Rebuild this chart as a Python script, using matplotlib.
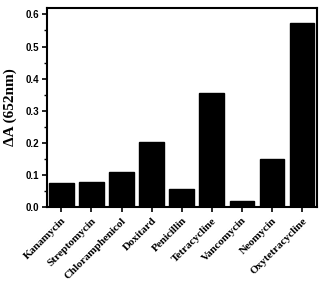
import matplotlib
matplotlib.use("Agg")
import matplotlib.pyplot as plt
from matplotlib.ticker import MultipleLocator

categories = ["Kanamycin", "Streptomycin", "Chloramphenicol", "Doxitard", "Penicillin",
              "Tetracycline", "Vancomycin", "Neomycin", "Oxytetracycline"]
values = [0.074, 0.078, 0.110, 0.203, 0.055, 0.354, 0.018, 0.149, 0.574]
yticks = [0.0, 0.1, 0.2, 0.3, 0.4, 0.5, 0.6]

fig = plt.figure(figsize=(3.23, 2.83), dpi=100)
ax = fig.add_axes([47/323, 1-207/283, (317-47)/323, (207-8)/283])

x = list(range(len(categories)))
ax.bar(x, values, width=0.82, color="black", edgecolor="black")
ax.set_xlim(-0.48, 8.5)
ax.set_ylim(0, 0.62)
ax.set_yticks(yticks)
ax.set_yticklabels([f"{v:.1f}" for v in yticks], fontfamily="Liberation Sans",
                   fontweight="bold", fontsize=7)
ax.yaxis.set_minor_locator(MultipleLocator(0.05))
ax.set_xticks(x)
ax.set_xticklabels(categories, rotation=45, ha="right", rotation_mode="anchor",
                   fontfamily="Liberation Serif", fontweight="bold", fontsize=8)
ax.tick_params(axis="both", which="major", direction="out", length=3.5, width=1.2, pad=2)
ax.tick_params(axis="y", which="minor", direction="out", length=2, width=1)
ax.tick_params(axis="x", pad=3)
for s in ax.spines.values():
    s.set_linewidth(1.5)
ax.set_ylabel("ΔA (652nm)", fontfamily="Liberation Serif", fontweight="bold", fontsize=11,
              labelpad=6)
fig.savefig("out.png", dpi=100)
